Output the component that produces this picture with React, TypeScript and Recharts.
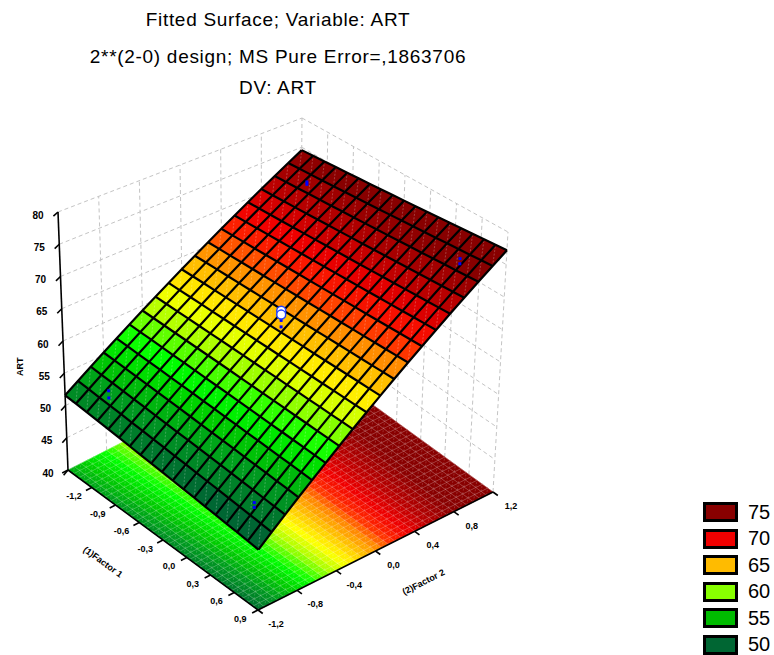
import React from 'react';
import { ComposedChart, XAxis, YAxis, Scatter } from 'recharts';

const CHART_W = 774;
const CHART_H = 655;

// coded factor ranges, tick values and labels
const x1Range = [-1.2, 1.2];
const x2Range = [-1.2, 1.2];
const artRange = [40, 80];
const x1Ticks = [-1.2, -0.9, -0.6, -0.3, 0, 0.3, 0.6, 0.9, 1.2];
const x1Labels = ['-1,2', '-0,9', '-0,6', '-0,3', '0,0', '0,3', '0,6', '0,9', ''];
const x2Ticks = [-1.2, -0.8, -0.4, 0, 0.4, 0.8, 1.2];
const x2Labels = ['-1,2', '-0,8', '-0,4', '0,0', '0,4', '0,8', '1,2'];
const artTicks = [40, 45, 50, 55, 60, 65, 70, 75, 80];

// fitted model: ART = b0 + b1*x1 + b2*x2 + b12*x1*x2
const coefficients = [62.95, -0.08, 10.75, 1.0];

// observed runs
const cornerRuns = [
  { x1: -0.9, x2: -1, art: 53.4 },
  { x1: -0.9, x2: -1, art: 52.3 },
  { x1: 0.9, x2: -1, art: 51.5 },
  { x1: 0.9, x2: -1, art: 50.8 },
  { x1: -0.9, x2: 1, art: 73.0 },
  { x1: -0.9, x2: 1, art: 72.6 },
  { x1: 0.9, x2: 1, art: 74.9 },
  { x1: 0.9, x2: 1, art: 74.1 },
];
const centerRunsHigh = [
  { x1: 0, x2: 0, art: 66.3 },
  { x1: 0, x2: 0, art: 65.7 },
];
const centerRunsLow = [
  { x1: 0, x2: 0, art: 64.8 },
  { x1: 0, x2: 0, art: 63.8 },
];

const legendLevels = ['75', '70', '65', '60', '55', '50'];
const legendColors = ['#880000', '#f00000', '#ffbb00', '#88ff00', '#00bb00', '#006633'];

// colour ramp for the surface
const RAMP: [number, string][] = [
  [50, '#006633'],
  [53, '#009a20'],
  [55, '#00cc00'],
  [57, '#00ff00'],
  [59.5, '#aaff00'],
  [61.5, '#ffff00'],
  [63.5, '#ffc400'],
  [65.5, '#ff8400'],
  [67, '#ff2a00'],
  [69, '#f00000'],
  [71.5, '#b80000'],
  [74.5, '#880000'],
];
const FLOOR_SHIFT = 2;

const MESH = 18;
const FLOOR_MESH = 36;

// screen position of the box corners (view setup)
const VIEW = {
  floor: { l: [68, 470], f: [258, 610], r: [493, 492], b: [300, 352] },
  top: { l: [58, 212], f: [260, 326], r: [508, 232], b: [302, 118] },
};

const fitted = (x1: number, x2: number) =>
  coefficients[0] + coefficients[1] * x1 + coefficients[2] * x2 + coefficients[3] * x1 * x2;

function project(x1: number, x2: number, z: number) {
  const a = (x1 - x1Range[0]) / (x1Range[1] - x1Range[0]);
  const b = (x2 - x2Range[0]) / (x2Range[1] - x2Range[0]);
  const c = (z - artRange[0]) / (artRange[1] - artRange[0]);
  const bil = (q: any, k: number) =>
    (1 - a) * (1 - b) * q.l[k] + a * (1 - b) * q.f[k] + a * b * q.r[k] + (1 - a) * b * q.b[k];
  return {
    sx: bil(VIEW.floor, 0) * (1 - c) + bil(VIEW.top, 0) * c,
    sy: bil(VIEW.floor, 1) * (1 - c) + bil(VIEW.top, 1) * c,
  };
}

function hexToRgb(h: string) {
  const n = parseInt(h.slice(1), 16);
  return [(n >> 16) & 255, (n >> 8) & 255, n & 255];
}

function colorFor(z: number) {
  if (z <= RAMP[0][0]) return RAMP[0][1];
  for (let i = 1; i < RAMP.length; i++) {
    if (z <= RAMP[i][0]) {
      const t = (z - RAMP[i - 1][0]) / (RAMP[i][0] - RAMP[i - 1][0]);
      const c0 = hexToRgb(RAMP[i - 1][1]);
      const c1 = hexToRgb(RAMP[i][1]);
      const m = c0.map((v, k) => Math.round(v + (c1[k] - v) * t));
      return `rgb(${m[0]},${m[1]},${m[2]})`;
    }
  }
  return RAMP[RAMP.length - 1][1];
}

// grid nodes (row-major, x1 index outer)
function gridNodes(n: number, onFloor: boolean) {
  const nodes: { x1: number; x2: number; z: number }[] = [];
  for (let i = 0; i <= n; i++) {
    for (let j = 0; j <= n; j++) {
      const x1 = x1Range[0] + ((x1Range[1] - x1Range[0]) * i) / n;
      const x2 = x2Range[0] + ((x2Range[1] - x2Range[0]) * j) / n;
      nodes.push({ x1, x2, z: fitted(x1, x2) });
    }
  }
  return nodes.map((p) => ({ ...p, ...project(p.x1, p.x2, onFloor ? artRange[0] : p.z) }));
}

const surfaceNodes = gridNodes(MESH, false);
const floorNodes = gridNodes(FLOOR_MESH, true);

// segments of the back walls (pairs of points)
const wallSegments: { sx: number; sy: number }[] = [];
const pushSeg = (a: [number, number, number], b: [number, number, number], list: any[]) => {
  list.push(project(a[0], a[1], a[2]), project(b[0], b[1], b[2]));
};
artTicks.slice(1).forEach((z) => {
  pushSeg([x1Range[0], x2Range[0], z], [x1Range[0], x2Range[1], z], wallSegments);
  pushSeg([x1Range[0], x2Range[1], z], [x1Range[1], x2Range[1], z], wallSegments);
});
x2Ticks.slice(1).forEach((t) => pushSeg([x1Range[0], t, artRange[0]], [x1Range[0], t, artRange[1]], wallSegments));
x1Ticks.slice(1).forEach((t) => pushSeg([t, x2Range[1], artRange[0]], [t, x2Range[1], artRange[1]], wallSegments));

// solid axes with tick marks
const axisSegments: { sx: number; sy: number }[] = [];
pushSeg([x1Range[0], x2Range[0], artRange[0]], [x1Range[0], x2Range[0], artRange[1]], axisSegments);
pushSeg([x1Range[0], x2Range[0], artRange[0]], [x1Range[1], x2Range[0], artRange[0]], axisSegments);
pushSeg([x1Range[1], x2Range[0], artRange[0]], [x1Range[1], x2Range[1], artRange[0]], axisSegments);
artTicks.forEach((z) => pushSeg([x1Range[0], x2Range[0], z], [x1Range[0] + 0.03, x2Range[0] - 0.07, z], axisSegments));
x1Ticks.forEach((t) => pushSeg([t, x2Range[0], artRange[0]], [t, x2Range[0] - 0.06, artRange[0]], axisSegments));
x2Ticks.forEach((t) => pushSeg([x1Range[1], t, artRange[0]], [x1Range[1] + 0.06, t, artRange[0]], axisSegments));

// text labels anchored at projected points
type Lbl = { text: string; dx: number; dy: number; rot: number; size: number; weight: string };
const labelMeta: Lbl[] = [];
const labelPoints: { sx: number; sy: number }[] = [];
const addLabel = (p: [number, number, number], l: Lbl) => {
  labelPoints.push(project(p[0], p[1], p[2]));
  labelMeta.push(l);
};
artTicks.forEach((z) =>
  addLabel([x1Range[0], x2Range[0], z], { text: String(z), dx: -20, dy: 3, rot: 0, size: 10, weight: 'bold' })
);
x1Ticks.forEach((t, i) =>
  addLabel([t, x2Range[0], artRange[0]], { text: x1Labels[i], dx: 6, dy: 26, rot: 0, size: 9, weight: 'bold' })
);
x2Ticks.forEach((t, i) =>
  addLabel([x1Range[1], t, artRange[0]], { text: x2Labels[i], dx: 18, dy: 14, rot: 0, size: 9, weight: 'bold' })
);
addLabel([x1Range[0], x2Range[0], 56], { text: 'ART', dx: -44, dy: 0, rot: -90, size: 9, weight: 'bold' });
addLabel([0, x2Range[0], artRange[0]], { text: '(1)Factor 1', dx: -60, dy: 22, rot: 36, size: 9, weight: 'bold' });
addLabel([x1Range[1], 0, artRange[0]], { text: '(2)Factor 2', dx: 48, dy: 31, rot: -27, size: 9, weight: 'bold' });

const cornerPoints = cornerRuns.map((r) => ({ ...r, ...project(r.x1, r.x2, r.art) }));
const centerHighPoints = centerRunsHigh.map((r) => ({ ...r, ...project(r.x1, r.x2, r.art) }));
const centerLowPoints = centerRunsLow.map((r) => ({ ...r, ...project(r.x1, r.x2, r.art) }));

const NoShape = () => null;

const renderSegments = (stroke: string, width: number, dash?: string) => (lp: any) => {
  const pts = lp.points || [];
  const out: React.ReactNode[] = [];
  for (let i = 0; i + 1 < pts.length; i += 2) {
    out.push(
      <line key={i} x1={pts[i].x} y1={pts[i].y} x2={pts[i + 1].x} y2={pts[i + 1].y}
        stroke={stroke} strokeWidth={width} strokeDasharray={dash} />
    );
  }
  return <g>{out}</g>;
};

const renderMesh = (
  nodes: any[],
  n: number,
  opts: { grid: string; gridW: number; gridOp: number; diagOp: number; shift: number }
) =>
  (lp: any) => {
    const pts = lp.points || [];
    if (pts.length < nodes.length) return <g />;
    const at = (i: number, j: number) => pts[i * (n + 1) + j];
    const cells: React.ReactNode[] = [];
    const diags: React.ReactNode[] = [];
    for (let i = 0; i < n; i++) {
      for (let j = 0; j < n; j++) {
        const q = [at(i, j), at(i + 1, j), at(i + 1, j + 1), at(i, j + 1)];
        const z =
          (nodes[i * (n + 1) + j].z + nodes[(i + 1) * (n + 1) + j].z +
            nodes[(i + 1) * (n + 1) + j + 1].z + nodes[i * (n + 1) + j + 1].z) / 4;
        const col = colorFor(z + opts.shift);
        cells.push(
          <polygon key={`c${i}-${j}`} points={q.map((p) => `${p.x},${p.y}`).join(' ')}
            fill={col} stroke={col} strokeWidth={0.6} />
        );
        diags.push(
          <line key={`d${i}-${j}`} x1={q[1].x} y1={q[1].y} x2={q[3].x} y2={q[3].y}
            stroke="#ffffff" strokeOpacity={opts.diagOp} strokeWidth={0.8} strokeDasharray="2 1.5" />
        );
      }
    }
    const lines: React.ReactNode[] = [];
    for (let i = 0; i <= n; i++) {
      const rowA: string[] = [];
      const rowB: string[] = [];
      for (let j = 0; j <= n; j++) {
        rowA.push(`${at(i, j).x},${at(i, j).y}`);
        rowB.push(`${at(j, i).x},${at(j, i).y}`);
      }
      lines.push(<polyline key={`a${i}`} points={rowA.join(' ')} fill="none" stroke={opts.grid}
        strokeOpacity={opts.gridOp} strokeWidth={opts.gridW} strokeLinejoin="round" />);
      lines.push(<polyline key={`b${i}`} points={rowB.join(' ')} fill="none" stroke={opts.grid}
        strokeOpacity={opts.gridOp} strokeWidth={opts.gridW} strokeLinejoin="round" />);
    }
    return <g>{cells}{diags}{lines}</g>;
  };

const renderLabels = (lp: any) => {
  const pts = lp.points || [];
  return (
    <g>
      {pts.map((p: any, i: number) => {
        const l = labelMeta[i];
        if (!l || !l.text) return null;
        const x = p.x + l.dx;
        const y = p.y + l.dy;
        return (
          <text key={i} x={x} y={y} fontSize={l.size} fontWeight={l.weight} fill="#000"
            textAnchor="middle" dominantBaseline="central"
            fontFamily="'Liberation Sans', Arial, sans-serif"
            transform={l.rot ? `rotate(${l.rot} ${x} ${y})` : undefined}>
            {l.text}
          </text>
        );
      })}
    </g>
  );
};

const SquareDot = (p: any) => <rect x={p.cx - 1.5} y={p.cy - 1.5} width={3} height={3} fill="#0000ff" />;
const RingDot = (p: any) => <circle cx={p.cx} cy={p.cy} r={4.5} fill="#ffffff" stroke="#2040ff" strokeWidth={1.5} />;

const titleLines = [
  'Fitted Surface; Variable: ART',
  '2**(2-0) design; MS Pure Error=,1863706',
  'DV: ART',
];

export default function App() {
  return (
    <div style={{ position: 'absolute', left: 0, top: 0, width: CHART_W, height: CHART_H, background: '#fff',
      fontFamily: "'Liberation Sans', Arial, sans-serif" }}>
      <ComposedChart width={CHART_W} height={CHART_H} margin={{ top: 0, right: 0, bottom: 0, left: 0 }}>
        <XAxis type="number" dataKey="sx" domain={[0, CHART_W]} hide allowDataOverflow />
        <YAxis type="number" dataKey="sy" domain={[0, CHART_H]} reversed hide allowDataOverflow />
        <Scatter data={wallSegments} shape={NoShape} line={renderSegments('#c4c4c4', 1, '4 3')} isAnimationActive={false} />
        <Scatter data={floorNodes} shape={NoShape}
          line={renderMesh(floorNodes, FLOOR_MESH, { grid: '#ffffff', gridW: 0.7, gridOp: 0.28, diagOp: 0.22, shift: FLOOR_SHIFT })}
          isAnimationActive={false} />
        <Scatter data={axisSegments} shape={NoShape} line={renderSegments('#000000', 1.6)} isAnimationActive={false} />
        <Scatter data={surfaceNodes} shape={NoShape}
          line={renderMesh(surfaceNodes, MESH, { grid: '#000000', gridW: 2.2, gridOp: 1, diagOp: 0.3, shift: 0 })}
          isAnimationActive={false} />
        <Scatter data={cornerPoints} shape={SquareDot} isAnimationActive={false} />
        <Scatter data={centerLowPoints} shape={SquareDot} isAnimationActive={false} />
        <Scatter data={centerHighPoints} shape={RingDot} isAnimationActive={false} />
        <Scatter data={labelPoints} shape={NoShape} line={renderLabels} isAnimationActive={false} />
      </ComposedChart>
      {titleLines.map((t, i) => (
        <div key={t} style={{ position: 'absolute', left: 0, width: 556, top: [9, 46, 77][i], textAlign: 'center',
          fontSize: 19, letterSpacing: 0.7, color: '#000', lineHeight: '22px' }}>
          {t}
        </div>
      ))}
      {legendLevels.map((lv, i) => (
        <div key={lv} style={{ position: 'absolute', left: 703, top: 502 + i * 26.5, height: 20, display: 'flex',
          alignItems: 'center' }}>
          <div style={{ width: 29, height: 14, border: '3px solid #000', background: legendColors[i] }} />
          <span style={{ marginLeft: 10, fontSize: 20, color: '#000' }}>{lv}</span>
        </div>
      ))}
    </div>
  );
}
